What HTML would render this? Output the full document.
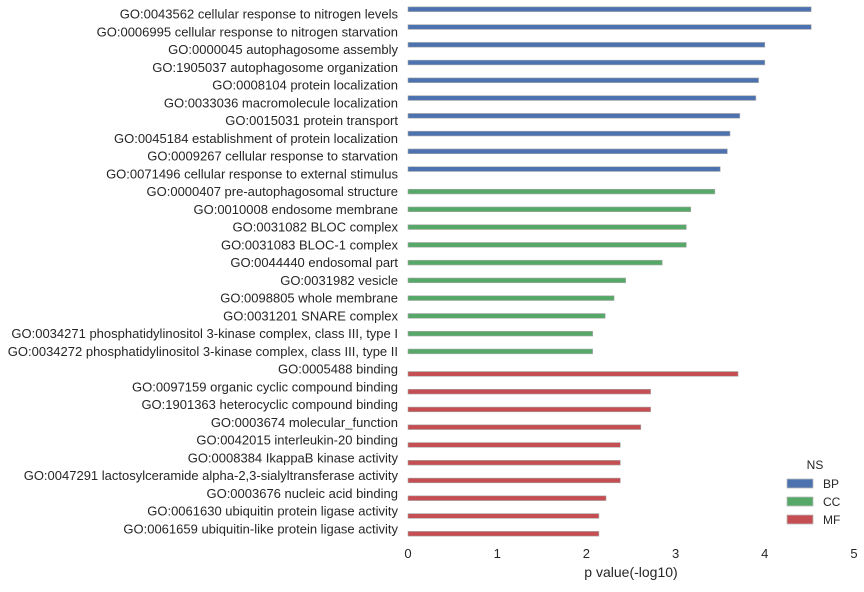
<!DOCTYPE html>
<html><head><meta charset="utf-8"><style>
body{margin:0;background:#fff;width:864px;height:587px;overflow:hidden}
svg text{font-family:"Liberation Sans",sans-serif;fill:#262626}
</style></head><body>
<svg id="chart" width="864" height="587" xmlns="http://www.w3.org/2000/svg">
<g id="labels"></g>
<g id="bars"></g>
<g id="xticks"></g>
<text x="631" y="577" font-size="14" text-anchor="middle">p value(-log10)</text>
<g>
<text x="815" y="469" font-size="12" text-anchor="middle">NS</text>
<g><rect x="787" y="479" width="26" height="9" fill="#4C72B0" stroke="#bbb" stroke-width="0.8"/><text x="823" y="488" font-size="12">BP</text></g>
<g><rect x="787" y="497" width="26" height="9" fill="#55A868" stroke="#bbb" stroke-width="0.8"/><text x="823" y="506" font-size="12">CC</text></g>
<g><rect x="787" y="515" width="26" height="9" fill="#C44E52" stroke="#bbb" stroke-width="0.8"/><text x="823" y="524" font-size="12">MF</text></g>
</g>
</svg>
<script>
const terms=["GO:0043562 cellular response to nitrogen levels","GO:0006995 cellular response to nitrogen starvation","GO:0000045 autophagosome assembly","GO:1905037 autophagosome organization","GO:0008104 protein localization","GO:0033036 macromolecule localization","GO:0015031 protein transport","GO:0045184 establishment of protein localization","GO:0009267 cellular response to starvation","GO:0071496 cellular response to external stimulus","GO:0000407 pre-autophagosomal structure","GO:0010008 endosome membrane","GO:0031082 BLOC complex","GO:0031083 BLOC-1 complex","GO:0044440 endosomal part","GO:0031982 vesicle","GO:0098805 whole membrane","GO:0031201 SNARE complex","GO:0034271 phosphatidylinositol 3-kinase complex, class III, type I","GO:0034272 phosphatidylinositol 3-kinase complex, class III, type II","GO:0005488 binding","GO:0097159 organic cyclic compound binding","GO:1901363 heterocyclic compound binding","GO:0003674 molecular_function","GO:0042015 interleukin-20 binding","GO:0008384 IkappaB kinase activity","GO:0047291 lactosylceramide alpha-2,3-sialyltransferase activity","GO:0003676 nucleic acid binding","GO:0061630 ubiquitin protein ligase activity","GO:0061659 ubiquitin-like protein ligase activity"];
const namespaces=["BP","BP","BP","BP","BP","BP","BP","BP","BP","BP","CC","CC","CC","CC","CC","CC","CC","CC","CC","CC","MF","MF","MF","MF","MF","MF","MF","MF","MF","MF"];
const pvalues=[4.52,4.52,4.0,4.0,3.93,3.90,3.72,3.61,3.58,3.50,3.44,3.17,3.12,3.12,2.85,2.44,2.31,2.21,2.07,2.07,3.70,2.72,2.72,2.61,2.38,2.38,2.38,2.22,2.14,2.14];
const xticks=[0,1,2,3,4,5];
const hues=["BP","CC","MF"];
const colors={BP:"#4C72B0",CC:"#55A868",MF:"#C44E52"};
const x=v=>408+v*89.2;
const step=(529-14)/29;
const y=i=>14+i*step-4;
const NS="http://www.w3.org/2000/svg";
const L=document.getElementById('labels'),B=document.getElementById('bars'),T=document.getElementById('xticks');
terms.forEach((t,i)=>{
 const tx=document.createElementNS(NS,'text');
 tx.setAttribute('x',398);tx.setAttribute('y',y(i)+4+4.5);
 tx.setAttribute('font-size','13');tx.setAttribute('text-anchor','end');
 tx.textContent=t;
 
 
 L.appendChild(tx);
 const h=hues.indexOf(namespaces[i]);
 const bw=step*0.8/3;
 const cy=y(i)+4+(h-1)*bw;
 const r=document.createElementNS(NS,'rect');
 r.setAttribute('x',x(0));r.setAttribute('y',cy-bw/2);
 r.setAttribute('width',x(pvalues[i])-x(0));r.setAttribute('height',bw);
 r.setAttribute('fill',colors[namespaces[i]]);r.setAttribute('stroke','#aaa');r.setAttribute('stroke-width','0.6');
 
 
 B.appendChild(r);
});
xticks.forEach(v=>{
 const tx=document.createElementNS(NS,'text');
 tx.setAttribute('x',x(v));tx.setAttribute('y',558);
 tx.setAttribute('font-size','13');tx.setAttribute('text-anchor','middle');
 tx.textContent=v;
 
 
 T.appendChild(tx);
});
</script>
</body></html>
